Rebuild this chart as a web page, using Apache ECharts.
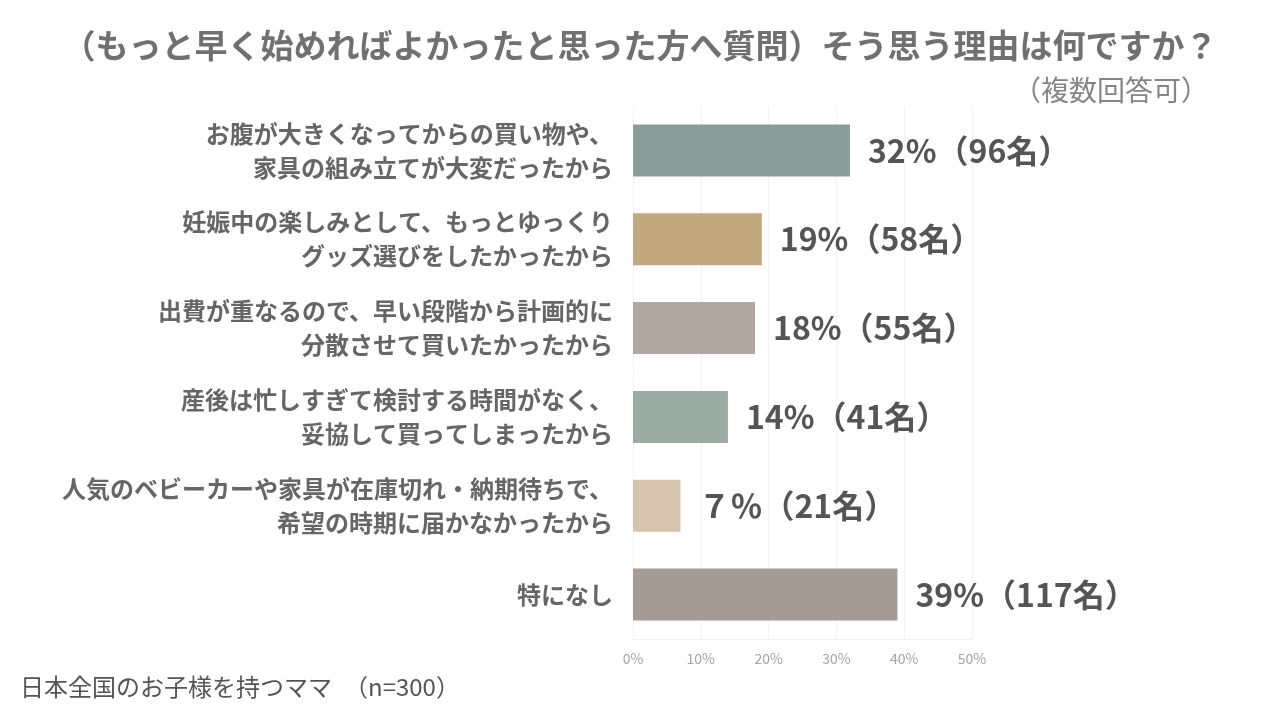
<!DOCTYPE html>
<html>
<head>
<meta charset="utf-8">
<script src="https://cdn.jsdelivr.net/npm/echarts@6/dist/echarts.min.js"></script>
<style>
    html, body { margin: 0; padding: 0; background: #fff; }
    #main { width: 1280px; height: 720px; }
</style>
</head>
<body>
<div id="main"></div>
<script>
// data
var categories = [
    'お腹が大きくなってからの買い物や、\n家具の組み立てが大変だったから',
    '妊娠中の楽しみとして、もっとゆっくり\nグッズ選びをしたかったから',
    '出費が重なるので、早い段階から計画的に\n分散させて買いたかったから',
    '産後は忙しすぎて検討する時間がなく、\n妥協して買ってしまったから',
    '人気のベビーカーや家具が在庫切れ・納期待ちで、\n希望の時期に届かなかったから',
    '特になし'
];
var percents = [32, 19, 18, 14, 7, 39];
var counts = [96, 58, 55, 41, 21, 117];
var pctText = ['32%', '19%', '18%', '14%', '７％', '39%'];
var barColors = ['#8b9d98', '#c4a880', '#b3a7a2', '#9bada2', '#d6c4ae', '#a69a94'];

var font = '"Noto Sans CJK JP", "Noto Sans", sans-serif';

var chart = echarts.init(document.getElementById('main'));

var option = {
    backgroundColor: '#fff',
    textStyle: { fontFamily: font },
    title: [
        {
            text: '（もっと早く始めればよかったと思った方へ質問）そう思う理由は何ですか？',
            left: 'center',
            top: 24,
            textStyle: { fontFamily: font, fontSize: 33, fontWeight: 'bold', color: '#707070' }
        },
        {
            text: '（複数回答可）',
            right: 66,
            top: 71,
            textStyle: { fontFamily: font, fontSize: 28, fontWeight: 'normal', color: '#858585' }
        },
        {
            text: '日本全国のお子様を持つママ　（n=300）',
            left: 15,
            top: 670,
            textStyle: { fontFamily: font, fontSize: 24, fontWeight: 'normal', color: '#555' }
        }
    ],
    grid: {
        left: 633,
        right: 308,
        top: 106,
        bottom: 81,
        containLabel: false
    },
    xAxis: {
        type: 'value',
        min: 0,
        max: 50,
        interval: 10,
        axisLine: { show: true, lineStyle: { color: '#f0f0f0' } },
        axisTick: { show: false },
        splitLine: { show: true, lineStyle: { color: '#f3f3f3' } },
        axisLabel: {
            formatter: '{value}%',
            color: '#9ea6a6',
            fontSize: 14,
            margin: 13,
            fontFamily: font
        }
    },
    yAxis: {
        type: 'category',
        inverse: true,
        data: categories,
        axisLine: { show: false },
        axisTick: { show: false },
        axisLabel: {
            color: '#666',
            fontSize: 24,
            fontWeight: 'bold',
            lineHeight: 34,
            margin: 20,
            align: 'right',
            fontFamily: font
        }
    },
    series: [{
        type: 'bar',
        barWidth: 52,
        data: percents.map(function (v, i) {
            return { value: v, itemStyle: { color: barColors[i] } };
        }),
        label: {
            show: true,
            position: 'right',
            distance: 18,
            color: '#555',
            fontSize: 32,
            fontWeight: 'bold',
            fontFamily: font,
            formatter: function (p) {
                return pctText[p.dataIndex] + '（' + counts[p.dataIndex] + '名）';
            }
        }
    }]
};

chart.setOption(option);
</script>
</body>
</html>
